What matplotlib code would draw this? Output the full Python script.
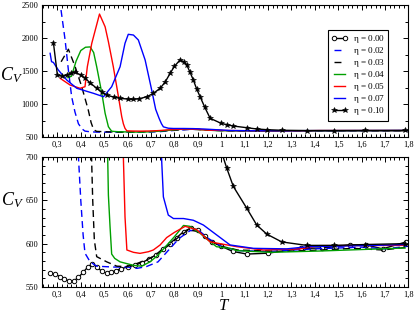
import matplotlib
matplotlib.use("Agg")
import matplotlib.pyplot as plt
from matplotlib.ticker import MultipleLocator, FuncFormatter

plt.rcParams['font.family'] = ['Liberation Serif', 'DejaVu Serif']
plt.rcParams['mathtext.fontset'] = 'custom'
plt.rcParams['mathtext.rm'] = 'Liberation Serif'
plt.rcParams['mathtext.it'] = 'Liberation Serif:italic'

# ---------------- data ----------------
labels = ["0.00", "0.02", "0.03", "0.04", "0.05", "0.07", "0.10"]

T_000 = [0.27, 0.29, 0.31, 0.33, 0.35, 0.37, 0.39, 0.41, 0.43, 0.45, 0.47, 0.49, 0.51, 0.53,
         0.55, 0.57, 0.60, 0.63, 0.66, 0.69, 0.72, 0.75, 0.78, 0.81, 0.84, 0.87, 0.90, 0.93,
         0.96, 1.00, 1.05, 1.11, 1.20, 1.34, 1.43, 1.49, 1.55, 1.62, 1.69, 1.79]
C_000 = [566, 565, 562, 559, 557, 557, 561, 567, 573, 577, 573, 568, 566, 567,
         569, 571, 573, 575, 578, 582, 587, 594, 600, 607, 614, 618, 616, 609,
         602, 597, 591, 588, 589, 594.5, 595, 596.5, 598.5, 598.5, 594, 602]

T_002 = [0.305, 0.333, 0.347, 0.361, 0.375, 0.39, 0.40, 0.41, 0.418, 0.44, 0.468, 0.54, 0.60,
         0.64, 0.68, 0.73, 0.78, 0.82, 0.867, 0.90, 0.945, 1.0, 1.07, 1.2, 1.4, 1.6, 1.7, 1.8]
C_002 = [2700, 1970, 1515, 1110, 880, 700, 650, 610, 589, 579, 574, 573, 573,
         571.5, 573.5, 579, 594, 606, 615, 616, 606, 597, 592, 591, 594, 596, 594, 597]

T_003 = [0.316, 0.347, 0.376, 0.404, 0.432, 0.444, 0.451, 0.458, 0.468, 0.511, 0.554, 0.597,
         0.639, 0.696, 0.731, 0.78, 0.82, 0.86, 0.90, 0.945, 1.0, 1.07, 1.27, 1.45, 1.565, 1.69, 1.8]
C_003 = [1640, 1830, 1565, 1262, 909, 720, 650, 604, 585, 579, 574, 573.5,
         577, 583, 589, 599, 608, 616, 614, 605, 597, 592.7, 591, 593, 594.6, 592.7, 596]

T_004 = [0.345, 0.36, 0.38, 0.40, 0.42, 0.44, 0.455, 0.468, 0.49, 0.504, 0.518, 0.525, 0.532,
         0.545, 0.568, 0.625, 0.66, 0.696, 0.731, 0.767, 0.80, 0.839, 0.866, 0.91, 0.945, 0.98,
         1.038, 1.067, 1.209, 1.42, 1.786]
C_004 = [1400, 1420, 1650, 1810, 1860, 1865, 1780, 1565, 1162, 859, 656, 620, 588,
         583, 579, 575, 574, 579, 587, 598, 608, 621, 620, 612, 604, 596.5,
         594.6, 592, 590, 591.5, 595]

T_005 = [0.312, 0.354, 0.397, 0.418, 0.428, 0.447, 0.48, 0.504, 0.518, 0.539, 0.561, 0.575,
         0.582, 0.589, 0.597, 0.625, 0.653, 0.689, 0.71, 0.739, 0.767, 0.80, 0.846, 0.896,
         0.953, 0.995, 1.067, 1.18, 1.337, 1.42, 1.786]
C_005 = [1389, 1288, 1238, 1262, 1565, 1920, 2363, 2170, 1944, 1565, 1110, 808,
         700, 631, 592.7, 590, 588.8, 590.7, 592.7, 598.5, 607, 613, 620, 616,
         602, 600, 596.5, 592.7, 594, 597.7, 598]

T_007 = [0.269, 0.275, 0.283, 0.304, 0.34, 0.383, 0.454, 0.497, 0.532, 0.568, 0.589, 0.603,
         0.625, 0.646, 0.675, 0.703, 0.72, 0.735, 0.745, 0.753, 0.774, 0.796, 0.839, 0.881,
         0.924, 0.981, 1.038, 1.138, 1.28, 1.37, 1.65, 1.786]
C_007 = [1768, 1641, 1630, 1515, 1364, 1238, 1162, 1110, 1262, 1565, 1920, 2056,
         2045, 1970, 1667, 1212, 920, 780, 700, 654, 633, 629, 629, 627,
         621.5, 610, 598.5, 594.6, 594, 596.5, 598, 599]

T_010 = [0.283, 0.30, 0.32, 0.34, 0.36, 0.376, 0.40, 0.419, 0.44, 0.468, 0.49, 0.511, 0.54,
         0.568, 0.60, 0.625, 0.65, 0.682, 0.71, 0.739, 0.76, 0.782, 0.80, 0.824, 0.84, 0.853,
         0.867, 0.881, 0.895, 0.91, 0.93, 0.953, 1.0, 1.024, 1.052, 1.109, 1.152, 1.195,
         1.259, 1.366, 1.483, 1.615, 1.786]
C_010 = [1929, 1440, 1420, 1440, 1470, 1480, 1440, 1389, 1320, 1238, 1180, 1136, 1105,
         1086, 1075, 1070, 1080, 1110, 1160, 1238, 1330, 1465, 1570, 1667, 1640, 1591,
         1480, 1364, 1230, 1110, 950, 783, 707, 687, 666, 641, 621.5, 611,
         602, 598, 598, 599, 600]

series = [
    (T_000, C_000, dict(color='black', ls='-', marker='o', mfc='white', ms=3.2, mew=0.7)),
    (T_002, C_002, dict(color='#0000ff', ls=(0, (5, 3)))),
    (T_003, C_003, dict(color='black', ls=(0, (5, 3)))),
    (T_004, C_004, dict(color='#00a000', ls='-')),
    (T_005, C_005, dict(color='#ff0000', ls='-')),
    (T_007, C_007, dict(color='#0000ff', ls='-')),
    (T_010, C_010, dict(color='black', ls='-', marker='*', ms=4.0, mew=0.4)),
]

# ---------------- figure ----------------
fig = plt.figure(figsize=(4.15, 3.13), dpi=100)
ax1 = fig.add_axes([0.1005, 0.5623, 0.8835, 0.4217])
ax2 = fig.add_axes([0.1005, 0.0831, 0.8835, 0.4153])

fmt = FuncFormatter(lambda v, p: ('%g' % round(v, 3)).replace('.', ','))

for i, ((T, C, st), lab) in enumerate(zip(series, labels)):
    name = r"η = $\mathit{" + lab + "}$"
    if i == 0:
        ax1.plot([], [], lw=1.0, label=name, **st)
    else:
        ax1.plot(T, C, lw=1.0, label=name, **st)
    ax2.plot(T, C, lw=1.0, **st)

for ax in (ax1, ax2):
    ax.set_xlim(0.233, 1.8)
    ax.xaxis.set_major_locator(MultipleLocator(0.1))
    ax.xaxis.set_minor_locator(MultipleLocator(0.02))
    ax.xaxis.set_major_formatter(fmt)
    ax.tick_params(which='both', direction='in', top=True, right=True, labelsize=6,
                   width=0.7, pad=2.6)
    ax.tick_params(which='major', length=3.5)
    ax.tick_params(which='minor', length=2)
    for s in ax.spines.values():
        s.set_linewidth(0.8)

ax1.set_ylim(500, 2500)
ax1.yaxis.set_major_locator(MultipleLocator(500))
ax1.yaxis.set_minor_locator(MultipleLocator(250))

ax2.set_ylim(550, 700)
ax2.yaxis.set_major_locator(MultipleLocator(50))
ax2.yaxis.set_minor_locator(MultipleLocator(10))

fig.text(0.027, 0.760, r"$C_V$", fontsize=13, ha='center', va='center')
fig.text(0.029, 0.361, r"$C_V$", fontsize=13, ha='center', va='center')
fig.text(0.539, 0.009, r"$T$", fontsize=12, ha='center', va='baseline')

leg = ax1.legend(loc='upper right', bbox_to_anchor=(0.945, 0.81), fontsize=6.6,
                 numpoints=2, handlelength=1.8, handleheight=0.5, labelspacing=0.0,
                 borderpad=0.35, handletextpad=0.5, fancybox=False, framealpha=1,
                 edgecolor='black', borderaxespad=0)
leg.get_frame().set_linewidth(0.8)

fig.savefig("out.png", dpi=100)
